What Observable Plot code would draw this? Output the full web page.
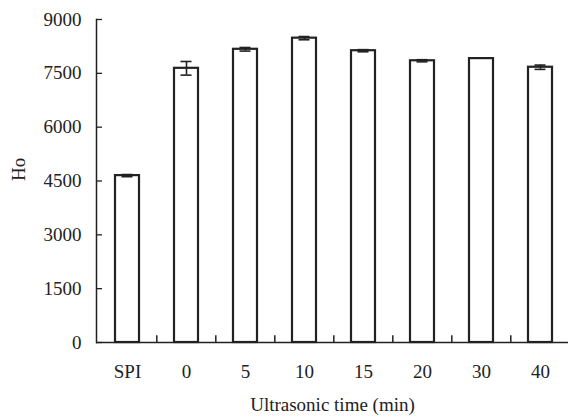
<!DOCTYPE html>
<html>
<head>
<meta charset="utf-8">
<script src="https://cdn.jsdelivr.net/npm/d3@7"></script>
<script src="https://cdn.jsdelivr.net/npm/@observablehq/plot@0.6"></script>
<style>
  html, body { margin: 0; padding: 0; background: #fff; }
  svg { display: block; }
</style>
</head>
<body>
<div id="chart"></div>
<script>
const categories = ["SPI", "0", "5", "10", "15", "20", "30", "40"];
const values = [4650, 7640, 8170, 8480, 8130, 7850, 7910, 7670];
const errors = [30, 190, 50, 45, 30, 30, 0, 60];
const yTicks = [0, 1500, 3000, 4500, 6000, 7500, 9000];

const data = categories.map((c, i) => ({ c, v: values[i], e: errors[i] }));
const errData = data.filter(d => d.e > 0);

const W = 568, H = 420;
const ML = 96, MT = 19, MB = 78;
const xRange = [ML, 571];
const halfBand = (xRange[1] - xRange[0]) / categories.length / 2;
const ink = "#222";
const font = "Liberation Serif, Times New Roman, serif";

const chart = Plot.plot({
  width: W,
  height: H,
  marginLeft: ML,
  marginRight: 0,
  marginTop: MT,
  marginBottom: MB,
  style: { fontFamily: font, fontSize: "19px", color: ink, background: "#fff" },
  x: { domain: categories, range: xRange, paddingInner: 0.6, paddingOuter: 0.3, label: null },
  y: { domain: [0, 9000], label: null },
  marks: [
    Plot.barY(data, { x: "c", y: "v", fill: "#fff", stroke: ink, strokeWidth: 2.2 }),
    Plot.ruleX(errData, { x: "c", y1: d => d.v - d.e, y2: d => d.v + d.e, stroke: ink, strokeWidth: 1.6 }),
    Plot.tickY(errData, { x: "c", y: d => d.v + d.e, stroke: ink, strokeWidth: 1.6, insetLeft: 6.5, insetRight: 6.5 }),
    Plot.tickY(errData, { x: "c", y: d => d.v - d.e, stroke: ink, strokeWidth: 1.6, insetLeft: 6.5, insetRight: 6.5 }),
    // y ticks pointing inward
    Plot.tickY(yTicks, { y: d => d, stroke: ink, strokeWidth: 1.3, insetRight: W - ML - 6 }),
    // x ticks between categories
    Plot.ruleX(categories.slice(1), { x: d => d, y1: 0, y2: 190, dx: -halfBand, stroke: ink, strokeWidth: 1.5 }),
    Plot.axisY({ ticks: yTicks, tickSize: 0, tickPadding: 15, tickFormat: d => String(d), fontSize: 19, fill: ink }),
    Plot.axisX({ tickSize: 0, tickPadding: 22, fontSize: 19, fill: ink }),
    Plot.frame({ anchor: "left", stroke: ink, strokeWidth: 1.5 }),
    Plot.ruleY([0], { stroke: ink, strokeWidth: 1.5 }),
    Plot.text(["Ho"], { frameAnchor: "left", dx: -78, rotate: -90, fontSize: 19, fill: ink }),
    Plot.text(["Ultrasonic time (min)"], { frameAnchor: "bottom", dy: 68, fontSize: 19, fill: ink })
  ]
});
document.getElementById("chart").appendChild(chart);
</script>
</body>
</html>
